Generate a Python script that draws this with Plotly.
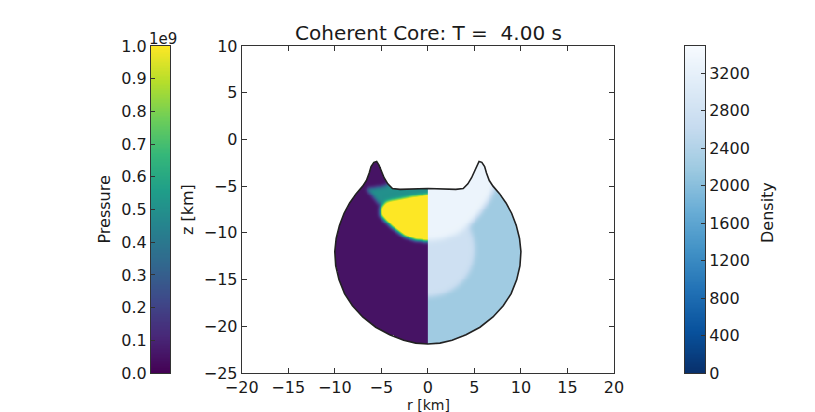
import numpy as np
import plotly.graph_objects as go

# the page draws the figure 8 px in from the top-left corner of the window
PAGE_OFFSET = 8
W, H = 815 - PAGE_OFFSET, 412 - PAGE_OFFSET


def px_x(p):
    return (p - PAGE_OFFSET) / W


def px_y(p):
    return 1 - (p - PAGE_OFFSET) / H


# ---------------- data (km, Pa, kg/m^3) ----------------
# outline of the body, right half (r >= 0); the left half is its mirror image
OUTLINE_R = [0.0, 1.5, 3.0, 3.8, 4.3, 4.7, 5.0, 5.25, 5.5, 5.8, 6.1, 6.3, 6.6, 7.0,
             7.7, 8.4, 9.0, 9.5, 9.85, 10.0, 9.9, 9.55, 8.95, 8.1, 7.0, 5.6, 4.1,
             2.6, 1.3, 0.0]
OUTLINE_Z = [-5.25, -5.3, -5.35, -5.25, -4.75, -4.1, -3.4, -2.75, -2.35, -2.45,
             -2.9, -3.6, -4.4, -5.0, -5.8, -6.8, -7.9, -9.2, -10.6, -12.0, -13.5,
             -15.0, -16.5, -17.8, -19.0, -20.1, -20.9, -21.5, -21.8, -21.9]

# pressure (left half, given in |r|)
HIGH_P_R = [0.0, 1.5, 2.5, 3.6, 4.6, 5.1, 5.1, 4.5, 3.9, 2.5, 1.2, 0.0]
HIGH_P_Z = [-5.9, -6.1, -6.3, -6.5, -6.7, -7.2, -8.2, -8.8, -9.35, -10.4, -10.8, -10.9]
HIGH_P_VALUE = 1.15e9
MID_P_R = [0.0, 3.8, 4.6, 6.6, 5.9, 5.2, 4.6, 0.0]
MID_P_Z = [-4.5, -4.5, -5.0, -5.3, -6.1, -7.0, -6.7, -5.9]
MID_P_VALUE = 0.5e9
BACKGROUND_P = 0.05e9

# density (right half)
DENSITY_MANTLE = 2200
DENSITY_CORE = 2760
DENSITY_HOT = 3300
CORE_CENTER_Z = -11.8
CORE_RADIUS = 5.0
HOT_R = [0.0, 8.0, 7.2, 6.5, 5.6, 4.4, 3.0, 1.5, 0.0]
HOT_Z = [-1.0, -1.0, -5.0, -6.5, -7.8, -9.2, -10.2, -10.7, -10.85]

P_MAX = 1e9
DENSITY_MAX = 3490
X_TICKS = [-20, -15, -10, -5, 0, 5, 10, 15, 20]
Y_TICKS = [-25, -20, -15, -10, -5, 0, 5, 10]
P_TICKS = [i * 1e8 for i in range(11)]
P_TICK_TEXT = ["0.0", "0.1", "0.2", "0.3", "0.4", "0.5", "0.6", "0.7", "0.8", "0.9", "1.0"]
D_TICKS = [0, 400, 800, 1200, 1600, 2000, 2400, 2800, 3200]

BLUES_R = [[0.0, "rgb(8,48,107)"], [0.125, "rgb(8,81,156)"], [0.25, "rgb(33,113,181)"],
           [0.375, "rgb(66,146,198)"], [0.5, "rgb(107,174,214)"], [0.625, "rgb(158,202,225)"],
           [0.75, "rgb(198,219,239)"], [0.875, "rgb(222,235,247)"], [1.0, "rgb(247,251,255)"]]

# ---------------- build the gridded fields ----------------
STEP = 0.1
r_c = (np.arange(-105, 105) + 0.5) * STEP
z_c = (np.arange(-225, -15) + 0.5) * STEP
RR, ZZ = np.meshgrid(r_c, z_c)
AR = np.abs(RR)


def inside(px, py, vx, vy):
    vx = np.asarray(vx, float)
    vy = np.asarray(vy, float)
    res = np.zeros(px.shape, bool)
    j = len(vx) - 1
    with np.errstate(divide="ignore", invalid="ignore"):
        for i in range(len(vx)):
            xi, yi, xj, yj = vx[i], vy[i], vx[j], vy[j]
            if yi != yj:
                cond = ((yi > py) != (yj > py)) & (px < (xj - xi) * (py - yi) / (yj - yi) + xi)
                res ^= cond
            j = i
    return res


def blur(a, sigma):
    half = int(3 * sigma) + 1
    k = np.arange(-half, half + 1)
    w = np.exp(-0.5 * (k / sigma) ** 2)
    w /= w.sum()
    a = np.pad(a, half, mode="edge")
    a = np.apply_along_axis(lambda v: np.convolve(v, w, mode="valid"), 0, a)
    a = np.apply_along_axis(lambda v: np.convolve(v, w, mode="valid"), 1, a)
    return a


full_r = OUTLINE_R + [-r for r in OUTLINE_R[::-1][1:]]
full_z = OUTLINE_Z + OUTLINE_Z[::-1][1:]
shape_mask = inside(RR, ZZ, full_r, full_z)

pressure = np.full(RR.shape, BACKGROUND_P)
pressure[inside(AR, ZZ, MID_P_R, MID_P_Z)] = MID_P_VALUE
pressure[inside(AR, ZZ, HIGH_P_R, HIGH_P_Z)] = HIGH_P_VALUE
pressure = blur(pressure, 2.0)

density = np.full(RR.shape, float(DENSITY_MANTLE))
density[(AR ** 2 + (ZZ - CORE_CENTER_Z) ** 2) < CORE_RADIUS ** 2] = DENSITY_CORE
density[inside(AR, ZZ, HOT_R, HOT_Z)] = DENSITY_HOT
density = blur(density, 3.0)

pressure[~shape_mask] = np.nan
density[~shape_mask] = np.nan
left = r_c < 0
right = r_c > 0

# ---------------- figure ----------------
FONT = "DejaVu Sans"
TXT = "#1a1a1a"
LINE = "#333333"

fig = go.Figure()
fig.add_trace(go.Heatmap(x=r_c[left], y=z_c, z=pressure[:, left], colorscale="Viridis",
                         zmin=0, zmax=P_MAX, showscale=False, hoverinfo="skip",
                         xaxis="x", yaxis="y"))
fig.add_trace(go.Heatmap(x=r_c[right], y=z_c, z=density[:, right], colorscale=BLUES_R,
                         zmin=0, zmax=DENSITY_MAX, showscale=False, hoverinfo="skip",
                         xaxis="x", yaxis="y"))
fig.add_trace(go.Scatter(x=full_r, y=full_z, mode="lines",
                         line=dict(color="#222222", width=1.6), hoverinfo="skip",
                         showlegend=False, xaxis="x", yaxis="y"))

# colour bars drawn as thin heatmaps
p_ramp = np.linspace(0, P_MAX, 256)
fig.add_trace(go.Heatmap(x=[0], y=p_ramp, z=p_ramp.reshape(-1, 1), colorscale="Viridis",
                         zmin=0, zmax=P_MAX, showscale=False, hoverinfo="skip",
                         xaxis="x2", yaxis="y2"))
d_ramp = np.linspace(0, DENSITY_MAX, 256)
fig.add_trace(go.Heatmap(x=[0], y=d_ramp, z=d_ramp.reshape(-1, 1), colorscale=BLUES_R,
                         zmin=0, zmax=DENSITY_MAX, showscale=False, hoverinfo="skip",
                         xaxis="x3", yaxis="y3"))

y_dom = [px_y(373), px_y(46)]
tick_font = dict(family=FONT, size=16, color=TXT)
common = dict(showgrid=False, zeroline=False, showline=True, linecolor=LINE,
              linewidth=1, tickfont=tick_font, tickcolor=LINE, automargin=False)

fig.update_layout(
    width=W, height=H, margin=dict(l=0, r=0, t=0, b=0, autoexpand=False),
    paper_bgcolor="white", plot_bgcolor="white", showlegend=False,
    xaxis=dict(domain=[px_x(241.7), px_x(614)], range=[-20, 20], tickvals=X_TICKS,
               ticks="inside", ticklen=5, mirror="allticks", anchor="y", **common),
    yaxis=dict(domain=y_dom, range=[-25, 10], tickvals=Y_TICKS,
               ticks="inside", ticklen=5, mirror="allticks", anchor="x", **common),
    xaxis2=dict(domain=[px_x(151), px_x(170)], range=[-0.5, 0.5], showticklabels=False,
                ticks="", mirror=True, anchor="y2", **common),
    yaxis2=dict(domain=y_dom, range=[0, P_MAX], tickvals=P_TICKS, ticktext=P_TICK_TEXT,
                ticks="inside", ticklen=4, side="left", mirror=True, anchor="x2", **common),
    xaxis3=dict(domain=[px_x(685), px_x(705)], range=[-0.5, 0.5], showticklabels=False,
                ticks="", mirror=True, anchor="y3", **common),
    yaxis3=dict(domain=y_dom, range=[0, DENSITY_MAX], tickvals=D_TICKS,
                ticks="inside", ticklen=4, side="right", mirror=True, anchor="x3", **common),
)


def label(text, x, y, size=16, angle=0, pad=1):
    fig.add_annotation(text=text, x=px_x(x), y=px_y(y), xref="paper", yref="paper",
                       showarrow=False, textangle=angle, borderpad=pad,
                       font=dict(family=FONT, size=size, color=TXT),
                       xanchor="center", yanchor="middle")


label("Coherent Core: T = \u00a04.00 s", 428, 33, size=20)
label("1e9", 163, 39, size=15)
label("Pressure", 103.5, 210, angle=-90)
label("z [km]", 187, 210, angle=-90)
label("r [km]", 428, 404.5, size=14, pad=0)
label("Density", 767, 213, angle=-90)

fig.write_html("out.html")
